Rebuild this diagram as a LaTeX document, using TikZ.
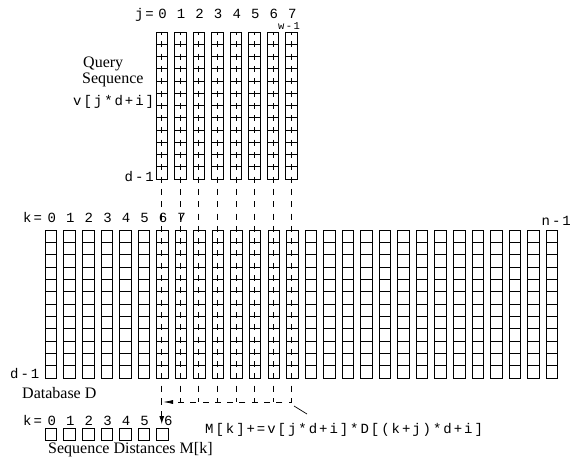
\documentclass[tikz,border=0pt]{standalone}
\usepackage{fontspec}
\setmainfont{Liberation Serif}
\newfontfamily\monof[LetterSpace=14]{Liberation Mono}
\usetikzlibrary{arrows.meta}
\begin{document}
\begin{tikzpicture}[x=1pt,y=-1pt,
  cell/.style={draw=black,line width=0.8pt},
  guide/.style={draw=black,line width=0.8pt,dash pattern=on 6pt off 6.3pt,dash phase=3pt},
  mono/.style={font=\monof\fontsize{14}{16}\selectfont,inner sep=0pt},
  serif/.style={font=\fontsize{16}{18}\selectfont,inner sep=0pt},
  small/.style={font=\monof\fontsize{10.5}{12}\selectfont,inner sep=0pt}]
\useasboundingbox (0,0) rectangle (573,460);
\def\pitch{18.55}
% query sequence columns
\foreach \j in {0,...,7}{
  \pgfmathsetmacro\xl{156+\pitch*\j}
  \draw[cell] (\xl,32) rectangle ++(11.5,147);
  \foreach \r in {1,...,11} \draw[cell] (\xl,{32+12.25*\r}) -- ++(11.5,0);
}
% database columns
\foreach \k in {0,...,27}{
  \pgfmathsetmacro\xl{45.3+\pitch*\k}
  \draw[cell] (\xl,230) rectangle ++(11.5,148);
  \foreach \r in {1,...,11} \draw[cell] (\xl,{230+12.333*\r}) -- ++(11.5,0);
}
% sequence distance boxes
\foreach \k in {0,...,6}{
  \pgfmathsetmacro\xl{45.3+\pitch*\k}
  \draw[cell] (\xl,428) rectangle ++(11.5,12);
}
% guide lines
\foreach \j in {0,...,7}{
  \coordinate (qt\j) at ({161.75+\pitch*\j},32);
  \coordinate (qb\j) at ({161.75+\pitch*\j},402);
  \draw[guide] (qt\j) -- (qb\j);
}
\coordinate (hl) at (163,402);
\draw[guide,-{Latex[length=10pt,width=4pt]}] (qb7) -- (hl);
\coordinate (mt) at (161.75,424);
\draw[guide,-{Latex[length=8pt,width=5pt]}] (qb0) -- (mt);
% labels
\node[mono,anchor=base east] (jeq) at (154,18.5) {j=};
\foreach \j in {0,...,7}
  \node[mono,anchor=base] (jd\j) at ({162.5+\pitch*\j},18.5) {\j};
\node[small,anchor=base] (wlab) at (289,30) {w-1};
\node[serif,anchor=base west] (qlab1) at (83,68) {Query};
\node[serif,anchor=base west] (qlab2) at (82,83.5) {Sequence};
\node[mono,anchor=base west] (vlab) at (73,106) {v[j*d+i]};
\node[mono,anchor=base east] (qd) at (154,181.5) {d-1};
\node[mono,anchor=base west] (keq) at (23,222) {k=};
\foreach \k in {0,...,7}
  \node[mono,anchor=base] (kd\k) at ({51.8+\pitch*\k},222) {\k};
\node[mono,anchor=base east] (nlab) at (571,225) {n-1};
\node[mono,anchor=base west] (dd) at (10,378) {d-1};
\node[serif,anchor=base west] (dblab) at (22,398) {Database D};
\node[mono,anchor=base west] (mkeq) at (23,425) {k=};
\foreach \k in {0,...,5}
  \node[mono,anchor=base] (md\k) at ({51.8+\pitch*\k},425) {\k};
\node[mono,anchor=base west] (md6) at (164,425) {6};
\node[serif,anchor=base west] (mlab) at (48,453) {Sequence Distances M[k]};
\node[mono,anchor=base west] (formula) at (205,433) {M[k]+=v[j*d+i]*D[(k+j)*d+i]};
\coordinate (l1) at (294,406);
\coordinate (l2) at (307,414);
\draw[line width=0.7pt] (l1) -- (l2);
\end{tikzpicture}
\end{document}
